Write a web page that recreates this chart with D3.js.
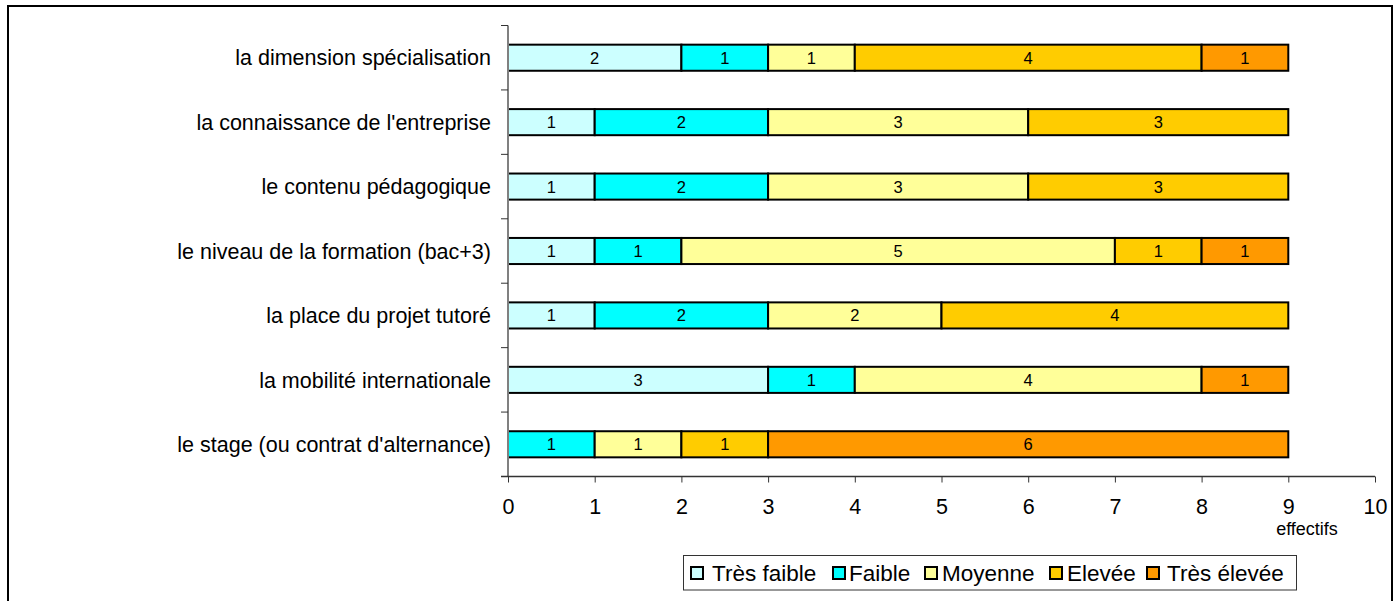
<!DOCTYPE html>
<html><head><meta charset="utf-8">
<script src="https://cdn.jsdelivr.net/npm/d3@7"></script>
<style>body{margin:0;background:#fff;}svg{display:block;font-family:"Liberation Sans",Arial,sans-serif;}</style>
</head><body>
<svg id="c" width="1399" height="601"></svg>
<script>
const categories = [
  "la dimension spécialisation",
  "la connaissance de l'entreprise",
  "le contenu pédagogique",
  "le niveau de la formation (bac+3)",
  "la place du projet tutoré",
  "la mobilité internationale",
  "le stage (ou contrat d'alternance)"
];
const seriesNames = ["Très faible","Faible","Moyenne","Elevée","Très élevée"];
const tresFaible = [2,1,1,1,1,3,0];
const faible     = [1,2,2,1,2,1,1];
const moyenne    = [1,3,3,5,2,4,1];
const elevee     = [4,3,3,1,4,0,1];
const tresElevee = [1,0,0,1,0,1,6];
const colors = ["#CCFFFF","#00FFFF","#FFFF99","#FFCC00","#FF9900"];
const xTicks = [0,1,2,3,4,5,6,7,8,9,10];
const xTitle = "effectifs";

(function(){
const svg = d3.select("#c");
svg.append("rect").attr("x",8).attr("y",6).attr("width",1384).attr("height",640)
  .attr("fill","none").attr("stroke","#000").attr("stroke-width",2);

const pL=508, pR=1375, pT=25.5, pB=476.5;
const x = d3.scaleLinear().domain([0,10]).range([pL,pR]);
const y = d3.scaleBand().domain(categories).range([pT,pB]).paddingInner(0.595).paddingOuter(0.2975);

const rows = categories.map((c,i)=>({cat:c, "Très faible":tresFaible[i], "Faible":faible[i], "Moyenne":moyenne[i], "Elevée":elevee[i], "Très élevée":tresElevee[i]}));
const stacked = d3.stack().keys(seriesNames)(rows);

const g = svg.append("g");
stacked.forEach((s,si)=>{
  const layer = g.append("g");
  s.forEach(d=>{
    const v = d[1]-d[0];
    if(v<=0) return;
    layer.append("rect")
      .attr("x",x(d[0])).attr("y",y(d.data.cat))
      .attr("width",x(d[1])-x(d[0])).attr("height",y.bandwidth())
      .attr("fill",colors[si]).attr("stroke","#000").attr("stroke-width",2);
    layer.append("text")
      .attr("x",(x(d[0])+x(d[1]))/2).attr("y",y(d.data.cat)+y.bandwidth()/2)
      .attr("dy","0.36em").attr("text-anchor","middle")
      .attr("font-size",16.5).attr("fill","#000").text(v);
  });
});

const ya = svg.append("g");
ya.append("line").attr("x1",pL).attr("x2",pL).attr("y1",pT).attr("y2",pB).attr("stroke","#808080").attr("stroke-width",2);
for(let i=0;i<=categories.length;i++){
  const yy = pT + i*(pB-pT)/categories.length;
  ya.append("line").attr("x1",pL-7).attr("x2",pL).attr("y1",yy).attr("y2",yy).attr("stroke","#333").attr("stroke-width",1);
}
categories.forEach(c=>{
  ya.append("text").attr("x",491).attr("y",y(c)+y.bandwidth()/2).attr("dy","0.36em")
    .attr("text-anchor","end").attr("font-size",21.5).attr("fill","#000").text(c);
});

const xa = svg.append("g").attr("transform",`translate(0,${pB})`)
  .call(d3.axisBottom(x).tickValues(xTicks).tickSize(6).tickPadding(16).tickFormat(d3.format("d")));
xa.select(".domain").attr("stroke","#333").attr("stroke-width",1.5).attr("d",`M${pL-7},0H${pR}`);
xa.selectAll(".tick line").attr("stroke","#333");
xa.selectAll(".tick text").attr("font-size",21.5).attr("fill","#000").attr("font-family","Liberation Sans, Arial, sans-serif");
svg.append("text").attr("x",1307).attr("y",535).attr("text-anchor","middle").attr("font-size",18).attr("fill","#000").text(xTitle);

const lg = svg.append("g");
lg.append("rect").attr("x",683.5).attr("y",555.5).attr("width",613).attr("height",34.5).attr("fill","#fff").attr("stroke","#333").attr("stroke-width",1);
const swX = [691, 833, 925, 1050, 1147];
const txX = [712, 849, 942, 1067, 1167];
seriesNames.forEach((n,i)=>{
  lg.append("rect").attr("x",swX[i]).attr("y",567).attr("width",12).attr("height",12)
    .attr("fill",colors[i]).attr("stroke","#000").attr("stroke-width",2);
  lg.append("text").attr("x",txX[i]).attr("y",580.5).attr("font-size",22.5).attr("fill","#000").text(n);
});
})();
</script>
</body></html>
